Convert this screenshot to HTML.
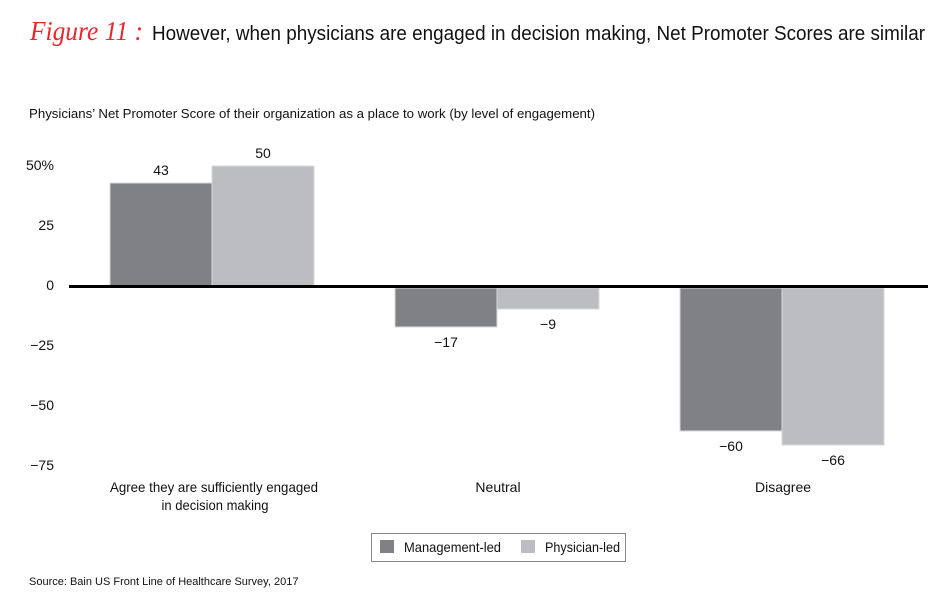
<!DOCTYPE html>
<html><head><meta charset="utf-8"><style>
html,body{margin:0;padding:0;background:#fff;}
svg{display:block;font-family:"Liberation Sans",sans-serif;}
</style></head><body>
<svg width="950" height="603" viewBox="0 0 950 603" xmlns="http://www.w3.org/2000/svg">
<text x="30" y="40" font-family="Liberation Serif,serif" font-style="italic" font-size="27" fill="#e8262d" textLength="113" lengthAdjust="spacingAndGlyphs">Figure 11 :</text>
<text x="152" y="40" font-size="20" fill="#111" textLength="773" lengthAdjust="spacingAndGlyphs">However, when physicians are engaged in decision making, Net Promoter Scores are similar</text>
<text x="29" y="118" font-size="13" fill="#111" textLength="566" lengthAdjust="spacingAndGlyphs">Physicians’ Net Promoter Score of their organization as a place to work (by level of engagement)</text>
<g font-size="14" fill="#111" text-anchor="end">
<text x="54" y="170">50%</text>
<text x="54" y="230">25</text>
<text x="54" y="290">0</text>
<text x="54" y="350">−25</text>
<text x="54" y="410">−50</text>
<text x="54" y="470">−75</text>
</g>
<rect x="110" y="183" width="102" height="103" fill="#808184" stroke="#d8d9db" stroke-width="1"/>
<rect x="212" y="166" width="102" height="120" fill="#bcbdc0" stroke="#d8d9db" stroke-width="1"/>
<rect x="395" y="288" width="102" height="39" fill="#808184" stroke="#d8d9db" stroke-width="1"/>
<rect x="497" y="288" width="102" height="21" fill="#bcbdc0" stroke="#d8d9db" stroke-width="1"/>
<rect x="680" y="288" width="102" height="143" fill="#808184" stroke="#d8d9db" stroke-width="1"/>
<rect x="782" y="288" width="102" height="157" fill="#bcbdc0" stroke="#d8d9db" stroke-width="1"/>
<rect x="69" y="285" width="859" height="3" fill="#000"/>
<g font-size="14" fill="#111" text-anchor="middle">
<text x="161" y="175">43</text>
<text x="263" y="158">50</text>
<text x="446" y="347">−17</text>
<text x="548" y="329">−9</text>
<text x="731" y="451">−60</text>
<text x="833" y="465">−66</text>
<text x="214" y="492" textLength="208" lengthAdjust="spacingAndGlyphs">Agree they are sufficiently engaged</text>
<text x="215" y="510" textLength="107" lengthAdjust="spacingAndGlyphs">in decision making</text>
<text x="498" y="492">Neutral</text>
<text x="783" y="492">Disagree</text>
</g>
<rect x="371.5" y="533.5" width="254" height="28" fill="#fff" stroke="#888" stroke-width="1"/>
<rect x="380" y="540" width="14" height="13" fill="#808184"/>
<rect x="521" y="540" width="14" height="13" fill="#bcbdc0"/>
<text x="404" y="552" font-size="14" fill="#111" textLength="97" lengthAdjust="spacingAndGlyphs">Management-led</text>
<text x="545" y="552" font-size="14" fill="#111" textLength="75" lengthAdjust="spacingAndGlyphs">Physician-led</text>
<text x="29" y="585" font-size="11" fill="#111">Source: Bain US Front Line of Healthcare Survey, 2017</text>
</svg>
</body></html>
